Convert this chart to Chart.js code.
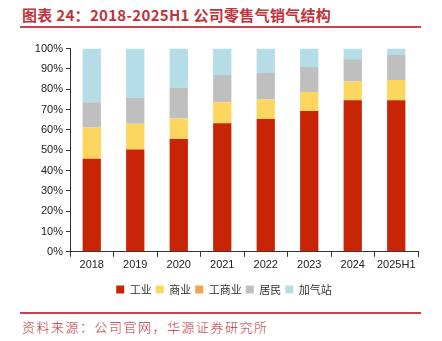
<!DOCTYPE html>
<html>
<head>
<meta charset="utf-8">
<script src="https://cdn.jsdelivr.net/npm/chart.js@4"></script>
<style>
  html, body { margin: 0; padding: 0; background: #fff; }
  body { width: 442px; height: 341px; position: relative; overflow: hidden; }
  .title {
    position: absolute; left: 22px; top: 4px;
    font-family: "Noto Sans CJK SC", sans-serif; font-weight: bold;
    font-size: 15px; color: #c0333a; letter-spacing: 0.3px;
  }
  .rule { position: absolute; left: 20px; width: 401px; height: 2px; background: #c8444a; }
  .source {
    position: absolute; left: 22px; top: 317px;
    font-family: "Noto Sans CJK SC", sans-serif; font-weight: 300;
    font-size: 13px; color: #c0333a; letter-spacing: 1.5px;
  }
  #wrap { position: absolute; left: 0; top: 39px; width: 442px; height: 266px; }
</style>
</head>
<body>
<div class="title">图表 24：2018-2025H1 公司零售气销气结构</div>
<div class="rule" style="top:26px"></div>
<div id="wrap"><canvas id="chart"></canvas></div>
<div class="rule" style="top:312px"></div>
<div class="source">资料来源：公司官网，华源证券研究所</div>
<script>
// retail gas sales mix by customer type, % of total
const years = ['2018', '2019', '2020', '2021', '2022', '2023', '2024', '2025H1'];
const industrial = [45.8, 50.4, 55.5, 63.3, 65.3, 69.3, 74.6, 74.6];
const commercial = [15.4, 12.6, 10.1, 10.3, 9.6, 9.4, 9.2, 10.0];
const indCommercial = [0, 0, 0, 0, 0, 0, 0, 0];
const residential = [12.4, 12.7, 15.1, 13.4, 13.1, 12.2, 10.9, 12.3];
const gasStation = [26.4, 24.3, 19.3, 13.0, 12.0, 9.1, 5.3, 3.1];

const seriesNames = ['工业', '商业', '工商业', '居民', '加气站'];
const seriesData = [industrial, commercial, indCommercial, residential, gasStation];
const seriesColors = ['#c82506', '#fcd65f', '#f7a050', '#bfbfbf', '#b5dde8'];

const tickFont = { family: 'Liberation Sans, Arial, sans-serif', size: 11 };

new Chart(document.getElementById('chart'), {
  type: 'bar',
  data: {
    labels: years,
    datasets: seriesNames.map((name, i) => ({
      label: name,
      data: seriesData[i],
      backgroundColor: seriesColors[i],
      borderWidth: 0,
      barPercentage: 0.42,
      categoryPercentage: 1
    }))
  },
  options: {
    responsive: true,
    maintainAspectRatio: false,
    animation: false,
    layout: { padding: { left: 30, right: 24, top: 8, bottom: 0 } },
    plugins: {
      tooltip: { enabled: false },
      legend: {
        position: 'bottom',
        labels: {
          boxWidth: 8, boxHeight: 8, padding: 4,
          color: '#333',
          font: { family: 'Noto Sans CJK SC, sans-serif', size: 11 }
        }
      }
    },
    scales: {
      x: {
        stacked: true,
        // extra space under the year labels before the legend
        afterFit: (s) => { s.height += 6; },
        grid: { offset: true, drawOnChartArea: false, tickLength: 5, color: '#333' },
        border: { color: '#333', width: 1 },
        ticks: { color: '#222', font: tickFont, padding: 2, maxRotation: 0 }
      },
      y: {
        stacked: true,
        min: 0, max: 100,
        afterFit: (s) => { s.width = 40; },
        grid: { drawOnChartArea: false, tickLength: 4, color: '#333' },
        border: { color: '#333', width: 1 },
        ticks: { stepSize: 10, color: '#222', font: tickFont, padding: 3, callback: v => v + '%' }
      }
    }
  }
});
</script>
</body>
</html>
